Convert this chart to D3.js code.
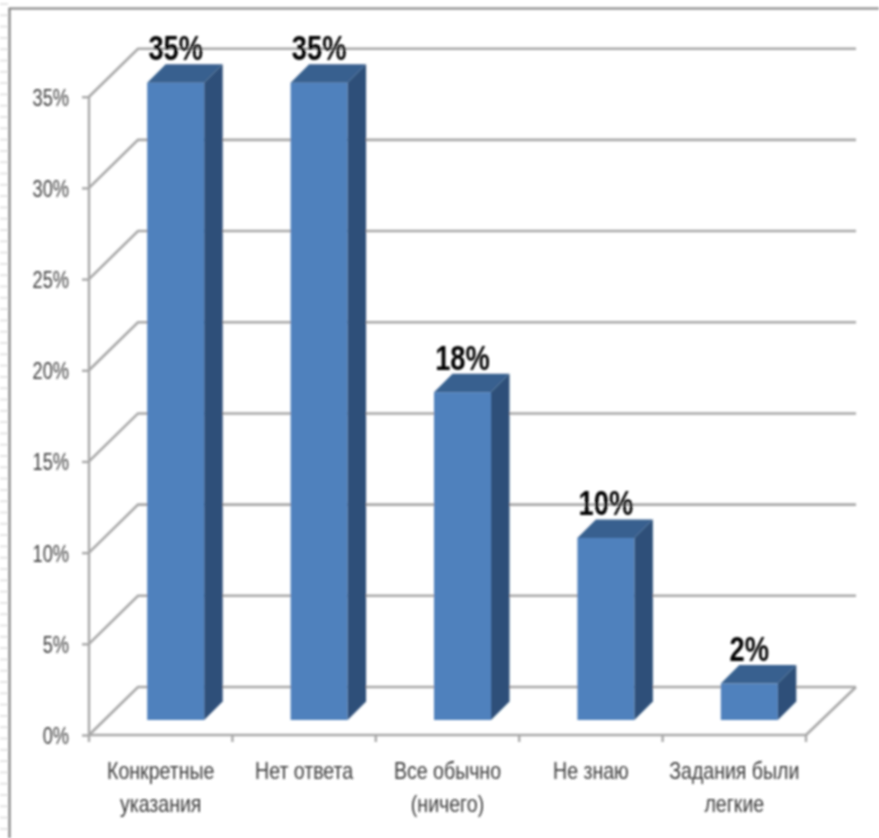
<!DOCTYPE html>
<html><head><meta charset="utf-8">
<script src="https://cdn.jsdelivr.net/npm/d3@7"></script>
<style>html,body{margin:0;padding:0;background:#fff}svg{display:block}</style>
</head><body><div id="c"></div>
<script>
const categories = [["Конкретные","указания"],["Нет ответа"],["Все обычно","(ничего)"],["Не знаю"],["Задания были","легкие"]];
const values = [35,35,18,10,2];
const yTicks = [0,5,10,15,20,25,30,35];
const W=879,H=838;
const svg=d3.select("#c").append("svg").attr("width",W).attr("height",H);
const defs=svg.append("defs");
defs.append("filter").attr("id","soft").attr("x","-5%").attr("y","-5%").attr("width","110%").attr("height","110%")
  .append("feGaussianBlur").attr("stdDeviation",0.8);
const root=svg.append("g").attr("filter","url(#soft)");
const font="'Liberation Sans',sans-serif";
// page frame
const stripes=d3.range(4,H,11.3);
root.append("g").selectAll("line").data(stripes).join("line")
  .attr("x1",0).attr("x2",8).attr("y1",d=>d).attr("y2",d=>d).attr("stroke","#e4e4e4").attr("stroke-width",2);
root.append("path").attr("d",`M9.5,${H}V8.5H${W}`).attr("fill","none").attr("stroke","#808080").attr("stroke-width",2.2);
// scales
const x=d3.scaleBand().domain(d3.range(categories.length)).range([89,806]);
const y=d3.scaleLinear().domain([0,35]).range([735,96.7]);
const barY=d3.scaleLinear().domain([0,35]).range([720,82.7]);
const wallDx=49,wallDy=-48, barOff=15, barDepth=18.5;
const barW=57;
const gridC="#a8a8a8";
const grid=root.append("g").attr("fill","none").attr("stroke",gridC).attr("stroke-width",2.6);
grid.selectAll("path").data(yTicks).join("path")
  .attr("d",t=>`M${x.range()[0]},${y(t)}L${x.range()[0]+wallDx},${y(t)+wallDy}H${x.range()[1]+wallDx+1}`);
grid.append("path").attr("d",`M${x.range()[1]+wallDx+1},${y(0)+wallDy}L${x.range()[1]},${y(0)}`);
// axes
const axL=root.append("g").attr("transform",`translate(${x.range()[0]},0)`)
  .call(d3.axisLeft(y).tickValues(yTicks).tickFormat(d=>d+"%").tickSize(7).tickPadding(13));
axL.selectAll("line,path").attr("stroke",gridC).attr("stroke-width",2.4);
axL.selectAll("text").attr("font-family",font).attr("font-size",24).attr("fill","#404040")
  .attr("x",0).attr("dy",0).attr("y",0).attr("dominant-baseline","auto")
  .attr("transform","translate(-20,8.5) scale(0.76,1)");
axL.select(".domain").attr("d",`M0,${y(35)}V${y(0)}`);
const axB=root.append("g").attr("stroke",gridC).attr("stroke-width",2.4);
axB.append("line").attr("x1",x.range()[0]).attr("x2",x.range()[1]).attr("y1",y(0)).attr("y2",y(0));
axB.selectAll(".t").data(d3.range(categories.length+1)).join("line").attr("class","t")
  .attr("x1",i=>x.range()[0]+i*x.step()).attr("x2",i=>x.range()[0]+i*x.step()).attr("y1",y(0)).attr("y2",y(0)+7);
// category labels
const lab=root.append("g").attr("font-family",font).attr("font-size",23).attr("fill","#3a3a3a").attr("text-anchor","middle");
lab.selectAll("text").data(categories).join("text").attr("transform",(d,i)=>`translate(${x(i)+x.bandwidth()/2},779) scale(0.85,1)`)
 .selectAll("tspan").data(d=>d).join("tspan").attr("x",0).attr("y",(d,i)=>i*33).text(d=>d);
// bars
const bars=root.append("g").selectAll("g").data(values).join("g")
  .attr("transform",(d,i)=>`translate(${x(i)+x.bandwidth()/2+barOff-barW/2},0)`);
bars.append("rect").attr("x",0).attr("y",d=>barY(d)).attr("width",barW).attr("height",d=>barY(0)-barY(d)).attr("fill","#4f81bd");
bars.append("path").attr("fill","#38618f").attr("d",d=>`M0,${barY(d)}l${barDepth},${-barDepth}h${barW}l${-barDepth},${barDepth}Z`);
bars.append("path").attr("fill","#2f5079").attr("d",d=>`M${barW},${barY(d)}l${barDepth},${-barDepth}V${barY(0)-barDepth}l${-barDepth},${barDepth}Z`);
bars.append("text").attr("text-anchor","middle")
  .attr("transform",d=>`translate(${barW/2},${barY(d)-22.5}) scale(0.78,1)`)
  .attr("font-family",font).attr("font-weight","bold").attr("font-size",35).attr("fill","#000").text(d=>d+"%");
</script></body></html>
